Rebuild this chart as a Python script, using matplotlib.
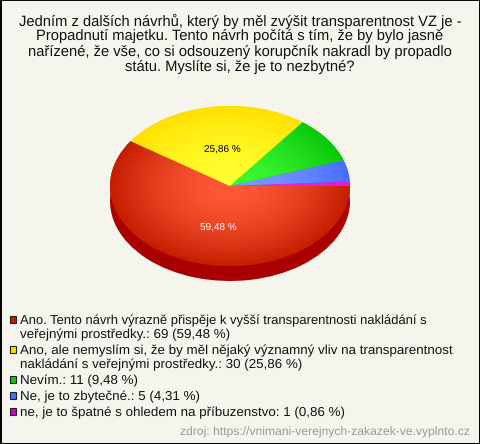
import numpy as np
import matplotlib
matplotlib.use('Agg')
import matplotlib.pyplot as plt
from matplotlib.patches import Rectangle

plt.rcParams['font.family'] = ['Liberation Sans', 'DejaVu Sans']
plt.rcParams['text.hinting'] = 'no_hinting'

title_lines = ['Jedním z dalších návrhů, který by měl zvýšit transparentnost VZ je -',
               'Propadnutí majetku. Tento návrh počítá s tím, že by bylo jasně',
               'nařízené, že vše, co si odsouzený korupčník nakradl by propadlo',
               'státu. Myslíte si, že je to nezbytné?']
values = [69, 30, 11, 5, 1]
legend_lines = [['Ano. Tento návrh výrazně přispěje k vyšší transparentnosti nakládání s',
                 'veřejnými prostředky.: 69 (59,48 %)'],
                ['Ano, ale nemyslím si, že by měl nějaký významný vliv na transparentnost',
                 'nakládání s veřejnými prostředky.: 30 (25,86 %)'],
                ['Nevím.: 11 (9,48 %)'],
                ['Ne, je to zbytečné.: 5 (4,31 %)'],
                ['ne, je to špatné s ohledem na příbuzenstvo: 1 (0,86 %)']]
source = 'zdroj: https://vnimani-verejnych-zakazek-ve.vyplnto.cz'

inner_colors = ['#ff5a37', '#ffff32', '#3cfa32', '#7d9bff', '#e628dc']
outer_colors = ['#c31e00', '#ffe100', '#0ac80a', '#466eff', '#e01ed8']
side_colors = ['#a80000', '#c8a800', '#089008', '#3050c0', '#a000a0']
legend_colors = ['#c31e00', '#ffe100', '#0ac80a', '#466eff', '#c800c8']

W, H = 480, 444
depth = 15 / 80

fig = plt.figure(figsize=(W / 100, H / 100), dpi=100, facecolor='#f5f5ed')

#pie axes: ellipse 240x160 px centred at (230,186), side wall below it
ax = fig.add_axes([110 / W, 1 - 281 / H, 240 / W, 175 / H])
ax.pie(values, startangle=0, counterclock=False, colors=side_colors, center=(0, -depth),
       wedgeprops={'linewidth': 0})
wedges, _ = ax.pie(values, startangle=0, counterclock=False, colors=outer_colors,
                   wedgeprops={'linewidth': 0})
ax.set_aspect('auto')
ax.axis('off')

#radial gradient on every slice, stays bright longer than a linear ramp
xx, yy = np.meshgrid(np.linspace(-1, 1, 400), np.linspace(-1, 1, 400))
rr = np.clip(np.sqrt(xx ** 2 + yy ** 2), 0, 1) ** 1.6
for wedge, c0, c1 in zip(wedges, inner_colors, outer_colors):
    a = np.array(matplotlib.colors.to_rgb(c0))
    b = np.array(matplotlib.colors.to_rgb(c1))
    img = a[None, None, :] + (b - a)[None, None, :] * rr[:, :, None]
    im = ax.imshow(img, extent=(-1, 1, -1, 1), origin='lower', aspect='auto', zorder=3)
    im.set_clip_path(wedge)
ax.set_xlim(-1, 1)
ax.set_ylim(-1 - depth, 1)

#overlay in pixel coordinates for the texts
ov = fig.add_axes([0, 0, 1, 1])
ov.set_xlim(0, W)
ov.set_ylim(H, 0)
ov.axis('off')
ov.patch.set_alpha(0)

ov.add_patch(Rectangle((0.5, 0.5), W - 1, H - 1, fill=False, edgecolor='black', linewidth=1.4))

for i, line in enumerate(title_lines):
    ov.text(240, 21 + i * 15.3, line, ha='center', va='center', fontsize=10.6, color='#111111')

ov.text(222, 150, '25,86 %', ha='center', va='center', fontsize=7.2, color='black')
ov.text(218, 228, '59,48 %', ha='center', va='center', fontsize=7.2, color='white')

y_rows = [320.5, 350.5, 380.5, 396.5, 412.5]
for lines, y0, col in zip(legend_lines, y_rows, legend_colors):
    ov.add_patch(Rectangle((10, y0 - 4.2), 6.3, 6.3, facecolor=col, edgecolor='#222222', linewidth=0.8))
    for j, line in enumerate(lines):
        #first line of the first item is set tighter in the original
        fs = 9.35 if line.startswith('Ano. Tento') else 9.6
        ov.text(20, y0 + j * 14.5, line, ha='left', va='center', fontsize=fs, color='#111111')

ov.text(470, 432, source, ha='right', va='center', fontsize=8.7, color='#999999')

fig.savefig('out.png', dpi=100, facecolor=fig.get_facecolor())
